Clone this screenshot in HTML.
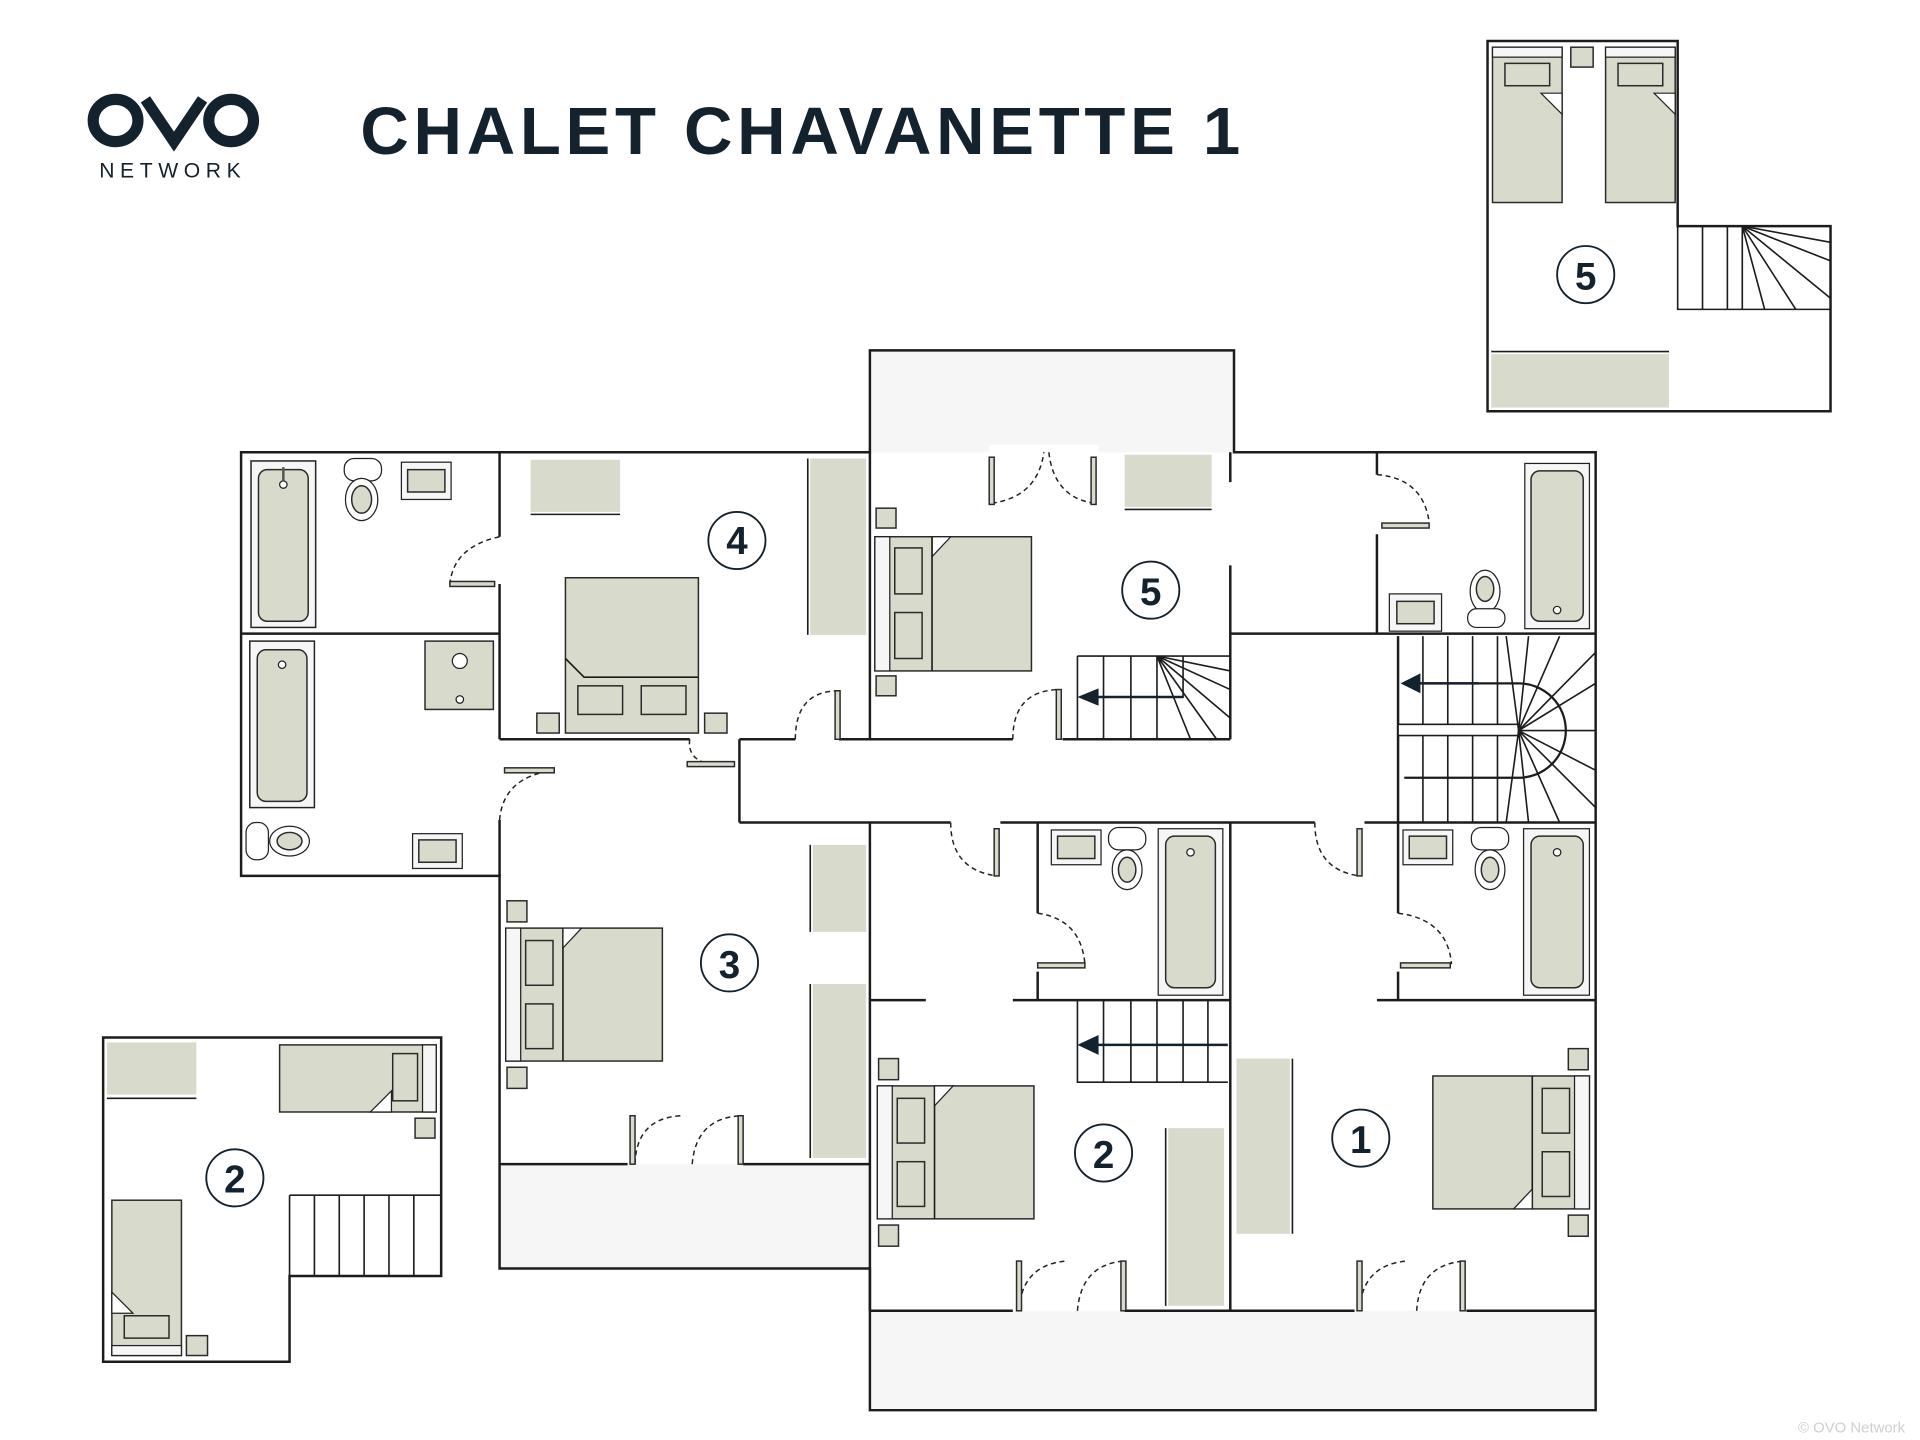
<!DOCTYPE html>
<html><head><meta charset="utf-8"><style>
html,body{margin:0;padding:0;background:#fff;}
svg{display:block}
</style></head><body>
<svg width="1920" height="1440" viewBox="0 0 1545 1159" preserveAspectRatio="none" xmlns="http://www.w3.org/2000/svg" font-family="Liberation Sans, sans-serif">
<defs>
<style>
.w{stroke:#1c1c1c;stroke-width:2;fill:none}
.t{stroke:#1c1c1c;stroke-width:1.3;fill:none}
.f{fill:#d8dacc;stroke:#2a2a2a;stroke-width:1.2}
.fn{fill:#d8dacc}
.bal{fill:#f6f6f6}
.d{stroke:#222;stroke-width:1.2;fill:none;stroke-dasharray:4 3}
.num{font-weight:bold;font-size:31px;fill:#14222e;text-anchor:middle}
</style>
</defs>
<rect width="1545" height="1159" fill="#fff"/>
<!-- logo -->
<g fill="none" stroke="#14222e" stroke-width="9">
<ellipse cx="93" cy="97" rx="18" ry="17"/>
<ellipse cx="186" cy="97" rx="18" ry="17"/>
<path d="M117 80 L140 114 L163 80"/>
</g>
<text x="139" y="143" font-size="17" letter-spacing="4.5" fill="#14222e" text-anchor="middle">NETWORK</text>
<text x="290" y="124" font-size="54" font-weight="bold" textLength="708" lengthAdjust="spacing" fill="#14222e">CHALET CHAVANETTE 1</text>
<text x="1533" y="1153" font-size="12" fill="#cfcfcf" text-anchor="end">© OVO Network</text>

<!-- balconies -->
<rect class="bal" x="700" y="282" width="293" height="82"/>
<rect class="bal" x="402" y="937" width="298" height="84"/>
<rect class="bal" x="700" y="1055" width="584" height="80"/>

<!-- outer walls -->
<path class="w" d="M194 364 H700 V282 H993 V364 H1284 V1135 H700 V1021 H402 V705 H194 Z"/>
<rect x="796" y="358" width="88" height="10" fill="#fff"/>
<!-- interior walls -->
<path class="w" d="M402 364 V432 M402 470 V595 M402 660 V705 M194 510 H402 M402 595 H555 M595 595 H640 M675 595 H815 M855 595 H990 M595 595 V662 M595 662 H765 M805 662 H1058 M1098 662 H1284 M700 364 V595 M700 662 V1055 M990 364 V388 M990 455 V595 M990 510 H1284 M1108 364 V382 M1108 430 V510 M1125 512 V662 M835 662 V735 M835 782 V805 M1125 662 V735 M1125 782 V805 M700 805 H745 M815 805 H990 M1108 805 H1284 M990 662 V1055 M700 1055 H815 M905 1055 H1090 M1180 1055 H1284 M402 937 H505 M598 937 H700"/>

<!-- doors -->
<g>
<path class="d" d="M402 432 Q365 440 362 470"/><rect x="362" y="468" width="36" height="4" class="f"/>
<path class="d" d="M402 660 Q405 625 446 620"/><rect x="406" y="618" width="40" height="4" class="f"/>
<path class="d" d="M555 595 Q552 618 590 616"/><rect x="553" y="613" width="38" height="4" class="f"/>
<path class="d" d="M640 595 Q640 556 675 556"/><rect x="672" y="556" width="4" height="39" class="f"/>
<path class="d" d="M815 595 Q815 556 852 555"/><rect x="850" y="555" width="4" height="40" class="f"/>
<path class="d" d="M798 405 Q835 400 840 364 M844 364 Q848 400 880 405"/><rect x="796" y="368" width="4" height="38" class="f"/><rect x="878" y="368" width="4" height="38" class="f"/>
<path class="d" d="M1108 382 Q1145 385 1150 420"/><rect x="1112" y="421" width="38" height="4" class="f"/>
<path class="d" d="M765 662 Q765 700 802 705"/><rect x="800" y="667" width="4" height="38" class="f"/>
<path class="d" d="M1058 662 Q1058 700 1094 705"/><rect x="1092" y="667" width="4" height="38" class="f"/>
<path class="d" d="M835 735 Q870 740 873 776"/><rect x="835" y="775" width="38" height="4" class="f"/>
<path class="d" d="M1125 735 Q1165 740 1168 776"/><rect x="1127" y="775" width="40" height="4" class="f"/>
<path class="d" d="M511 937 Q512 900 548 898 M557 937 Q560 900 596 898"/><rect x="507" y="898" width="4" height="39" class="f"/><rect x="594" y="898" width="4" height="39" class="f"/>
<path class="d" d="M820 1055 Q822 1018 858 1015 M867 1055 Q870 1018 904 1015"/><rect x="818" y="1015" width="4" height="40" class="f"/><rect x="902" y="1015" width="4" height="40" class="f"/>
<path class="d" d="M1094 1055 Q1096 1018 1132 1015 M1140 1055 Q1142 1018 1178 1015"/><rect x="1092" y="1015" width="4" height="40" class="f"/><rect x="1175" y="1015" width="4" height="40" class="f"/>
</g>

<!-- bathroom top-left -->
<rect x="202" y="371" width="52" height="134" fill="#f6f6f6" stroke="#222" stroke-width="1.2"/>
<rect x="208" y="378" width="40" height="122" rx="7" class="f"/>
<circle cx="228" cy="390" r="3" fill="#fff" stroke="#222"/><line x1="228" y1="376" x2="228" y2="387" stroke="#555" stroke-width="2"/>
<rect x="277" y="369" width="30" height="18" rx="8" fill="#fff" stroke="#222"/>
<ellipse cx="291" cy="402" rx="13" ry="17" fill="#fff" stroke="#222"/><ellipse cx="291" cy="402" rx="8" ry="11" class="f"/>
<rect x="323" y="372" width="40" height="30" fill="#f6f6f6" stroke="#222"/><rect x="328" y="378" width="30" height="18" class="f"/>
<!-- bathroom mid-left -->
<rect x="201" y="516" width="52" height="134" fill="#f6f6f6" stroke="#222" stroke-width="1.2"/>
<rect x="207" y="523" width="40" height="122" rx="7" class="f"/>
<circle cx="227" cy="535" r="3" fill="#fff" stroke="#222"/>
<rect x="342" y="516" width="55" height="55" class="f"/><circle cx="370" cy="532" r="6" fill="#fff" stroke="#222"/><circle cx="370" cy="563" r="3" fill="#fff" stroke="#222"/>
<rect x="198" y="662" width="18" height="30" rx="8" fill="#fff" stroke="#222"/><ellipse cx="233" cy="677" rx="16" ry="12" fill="#fff" stroke="#222"/><ellipse cx="233" cy="677" rx="10" ry="7" class="f"/>
<rect x="332" y="671" width="40" height="28" fill="#f6f6f6" stroke="#222"/><rect x="337" y="676" width="30" height="18" class="f"/>

<!-- room 4 -->
<rect x="427" y="370" width="72" height="42" class="fn"/><line x1="427" y1="414" x2="499" y2="414" class="t"/>
<rect x="652" y="369" width="45" height="142" class="fn"/><line x1="650" y1="369" x2="650" y2="511" class="t"/>
<rect x="455" y="465" width="107" height="125" class="f"/>
<path d="M455 530 L470 545 H562" class="t"/>
<rect x="465" y="552" width="36" height="23" class="f"/><rect x="516" y="552" width="36" height="23" class="f"/>
<rect x="432" y="574" width="18" height="16" class="f"/><rect x="567" y="574" width="18" height="16" class="f"/>
<circle cx="593" cy="435" r="23" fill="#fff" stroke="#14222e" stroke-width="1.5"/><text x="593" y="446" class="num">4</text>

<!-- room 5 -->
<rect x="905" y="366" width="70" height="42" class="fn"/><line x1="905" y1="410" x2="975" y2="410" class="t"/>
<rect x="704" y="432" width="126" height="108" class="f"/>
<rect x="704" y="432" width="12" height="108" fill="#f6f6f6" stroke="#222"/>
<rect x="720" y="441" width="22" height="37" class="f"/><rect x="720" y="493" width="22" height="37" class="f"/>
<path d="M750 432 V448 L765 432 Z" fill="#fff" stroke="#222"/><line x1="750" y1="432" x2="750" y2="540" class="t"/>
<rect x="705" y="409" width="16" height="16" class="f"/><rect x="705" y="544" width="16" height="16" class="f"/>
<circle cx="926" cy="475" r="23" fill="#fff" stroke="#14222e" stroke-width="1.5"/><text x="926" y="487" class="num">5</text>
<path class="t" d="M867 528 H990 M867 528 V595 M888 528 V595 M910 528 V595 M931 528 V595 M931 561 H952 V528 M931 528 L958 595 M931 528 L979 595 M931 528 L990 578 M931 528 L990 555 M931 528 L990 540"/>
<line x1="880" y1="561" x2="952" y2="561" stroke="#14222e" stroke-width="2"/><path d="M867 561 L884 554 V568 Z" fill="#14222e"/>

<!-- top-right bathroom -->
<rect x="1227" y="373" width="52" height="133" fill="#f6f6f6" stroke="#222"/>
<rect x="1232" y="379" width="42" height="121" rx="7" class="f"/>
<circle cx="1253" cy="491" r="3" fill="#fff" stroke="#222"/>
<rect x="1118" y="478" width="42" height="30" fill="#f6f6f6" stroke="#222"/><rect x="1124" y="484" width="30" height="18" class="f"/>
<ellipse cx="1195" cy="476" rx="12" ry="17" fill="#fff" stroke="#222"/><ellipse cx="1195" cy="474" rx="7" ry="10" class="f"/><rect x="1181" y="490" width="30" height="15" rx="7" fill="#fff" stroke="#222"/>

<!-- main stairs -->
<g class="t">
<path d="M1145 512 V583 M1165 512 V583 M1185 512 V583 M1205 512 V583 M1145 592 V662 M1165 592 V662 M1185 592 V662 M1205 592 V662"/>
<rect x="1125" y="583" width="97" height="9" fill="#fff"/>
<path d="M1130 550 H1222 A38 38 0 0 1 1222 626 H1130" stroke-width="1.8"/>
<path d="M1222 588 L1212 512 M1222 588 L1230 512 M1222 588 L1255 512 M1222 588 L1284 525 M1222 588 L1284 550 M1222 588 L1284 588 M1222 588 L1284 620 M1222 588 L1284 650 M1222 588 L1255 662 M1222 588 L1230 662 M1222 588 L1212 662"/>
</g>
<line x1="1140" y1="550" x2="1190" y2="550" stroke="#14222e" stroke-width="2"/><path d="M1127 550 L1143 542 V558 Z" fill="#14222e"/>

<!-- bathrooms lower -->
<rect x="932" y="667" width="52" height="134" fill="#f6f6f6" stroke="#222"/><rect x="938" y="673" width="40" height="122" rx="7" class="f"/><circle cx="958" cy="686" r="3" fill="#fff" stroke="#222"/>
<rect x="846" y="668" width="40" height="28" fill="#f6f6f6" stroke="#222"/><rect x="851" y="673" width="30" height="18" class="f"/>
<rect x="892" y="666" width="30" height="18" rx="8" fill="#fff" stroke="#222"/><ellipse cx="907" cy="700" rx="12" ry="16" fill="#fff" stroke="#222"/><ellipse cx="907" cy="700" rx="7" ry="10" class="f"/>
<rect x="1226" y="667" width="53" height="134" fill="#f6f6f6" stroke="#222"/><rect x="1232" y="673" width="42" height="122" rx="7" class="f"/><circle cx="1253" cy="686" r="3" fill="#fff" stroke="#222"/>
<rect x="1129" y="668" width="40" height="28" fill="#f6f6f6" stroke="#222"/><rect x="1134" y="673" width="30" height="18" class="f"/>
<rect x="1184" y="666" width="30" height="18" rx="8" fill="#fff" stroke="#222"/><ellipse cx="1199" cy="700" rx="12" ry="16" fill="#fff" stroke="#222"/><ellipse cx="1199" cy="700" rx="7" ry="10" class="f"/>

<!-- room 3 -->
<rect x="654" y="680" width="43" height="70" class="fn"/><line x1="652" y1="680" x2="652" y2="750" class="t"/>
<rect x="654" y="792" width="43" height="140" class="fn"/><line x1="652" y1="792" x2="652" y2="932" class="t"/>
<rect x="407" y="747" width="126" height="107" class="f"/><rect x="407" y="747" width="12" height="107" fill="#f6f6f6" stroke="#222"/>
<rect x="423" y="757" width="22" height="36" class="f"/><rect x="423" y="808" width="22" height="36" class="f"/>
<line x1="453" y1="747" x2="453" y2="854" class="t"/><path d="M453 747 V763 L468 747 Z" fill="#fff" stroke="#222"/>
<rect x="408" y="725" width="16" height="17" class="f"/><rect x="408" y="859" width="16" height="17" class="f"/>
<circle cx="587" cy="775" r="23" fill="#fff" stroke="#14222e" stroke-width="1.5"/><text x="587" y="787" class="num">3</text>

<!-- room 2 stairs -->
<path class="t" d="M867 805 V871 H988 M888 805 V871 M910 805 V871 M931 805 V871 M952 805 V871 M972 805 V871"/>
<line x1="880" y1="841" x2="988" y2="841" stroke="#14222e" stroke-width="2"/><path d="M867 841 L884 833 V849 Z" fill="#14222e"/>
<!-- room 2 -->
<rect x="706" y="874" width="126" height="107" class="f"/><rect x="706" y="874" width="12" height="107" fill="#f6f6f6" stroke="#222"/>
<rect x="722" y="884" width="22" height="36" class="f"/><rect x="722" y="935" width="22" height="36" class="f"/>
<line x1="752" y1="874" x2="752" y2="981" class="t"/><path d="M752 874 V890 L767 874 Z" fill="#fff" stroke="#222"/>
<rect x="707" y="852" width="16" height="17" class="f"/><rect x="707" y="986" width="16" height="17" class="f"/>
<rect x="940" y="908" width="45" height="143" class="fn"/><line x1="938" y1="908" x2="938" y2="1051" class="t"/>
<circle cx="888" cy="928" r="23" fill="#fff" stroke="#14222e" stroke-width="1.5"/><text x="888" y="940" class="num">2</text>
<!-- room 1 -->
<rect x="995" y="852" width="43" height="141" class="fn"/><line x1="1040" y1="852" x2="1040" y2="993" class="t"/>
<rect x="1153" y="866" width="126" height="107" class="f"/><rect x="1267" y="866" width="12" height="107" fill="#f6f6f6" stroke="#222"/>
<rect x="1241" y="876" width="22" height="36" class="f"/><rect x="1241" y="927" width="22" height="36" class="f"/>
<line x1="1233" y1="866" x2="1233" y2="973" class="t"/><path d="M1233 973 V957 L1218 973 Z" fill="#fff" stroke="#222"/>
<rect x="1262" y="844" width="16" height="17" class="f"/><rect x="1262" y="978" width="16" height="17" class="f"/>
<circle cx="1095" cy="916" r="23" fill="#fff" stroke="#14222e" stroke-width="1.5"/><text x="1095" y="928" class="num">1</text>

<!-- top right mezzanine 5 -->
<path class="w" d="M1197 33 H1350 V182 H1473 V331 H1197 Z"/>
<rect x="1201" y="38" width="56" height="125" class="f"/><rect x="1211" y="51" width="36" height="18" class="f"/><rect x="1201" y="38" width="56" height="8" fill="#f6f6f6" stroke="#222"/>
<path d="M1240 75 L1257 92 V75 Z" fill="#fff" stroke="#222"/>
<rect x="1292" y="38" width="56" height="125" class="f"/><rect x="1302" y="51" width="36" height="18" class="f"/><rect x="1292" y="38" width="56" height="8" fill="#f6f6f6" stroke="#222"/>
<path d="M1331 75 L1348 92 V75 Z" fill="#fff" stroke="#222"/>
<rect x="1264" y="38" width="18" height="16" class="f"/>
<rect x="1200" y="285" width="143" height="43" class="fn"/><line x1="1200" y1="283" x2="1343" y2="283" class="t"/>
<path class="t" d="M1350 182 V249 H1473 M1370 182 V249 M1390 182 V249 M1402 182 L1402 249 M1402 182 L1420 249 M1402 182 L1445 249 M1402 182 L1473 240 M1402 182 L1473 210 M1402 182 L1473 195"/>
<circle cx="1276" cy="221" r="23" fill="#fff" stroke="#14222e" stroke-width="1.5"/><text x="1276" y="233" class="num">5</text>

<!-- bottom-left mezzanine 2 -->
<path class="w" d="M83 835 H355 V1027 H233 V1096 H83 Z"/>
<rect x="86" y="839" width="72" height="42" class="fn"/><line x1="86" y1="884" x2="158" y2="884" class="t"/>
<rect x="225" y="841" width="126" height="54" class="f"/><rect x="340" y="841" width="11" height="54" fill="#f6f6f6" stroke="#222"/><rect x="316" y="848" width="20" height="38" class="f"/>
<path d="M315 895 V878 L298 895 Z" fill="#fff" stroke="#222"/>
<rect x="334" y="900" width="16" height="16" class="f"/>
<rect x="90" y="966" width="56" height="125" class="f"/><rect x="90" y="1083" width="56" height="8" fill="#f6f6f6" stroke="#222"/><rect x="100" y="1059" width="36" height="18" class="f"/>
<path d="M90 1040 L107 1057 H90 Z" fill="#fff" stroke="#222"/>
<rect x="150" y="1075" width="17" height="16" class="f"/>
<path class="t" d="M233 962 H355 M233 962 V1027 M253 962 V1027 M273 962 V1027 M293 962 V1027 M313 962 V1027 M333 962 V1027"/>
<circle cx="189" cy="948" r="23" fill="#fff" stroke="#14222e" stroke-width="1.5"/><text x="189" y="960" class="num">2</text>
</svg>
</body></html>
